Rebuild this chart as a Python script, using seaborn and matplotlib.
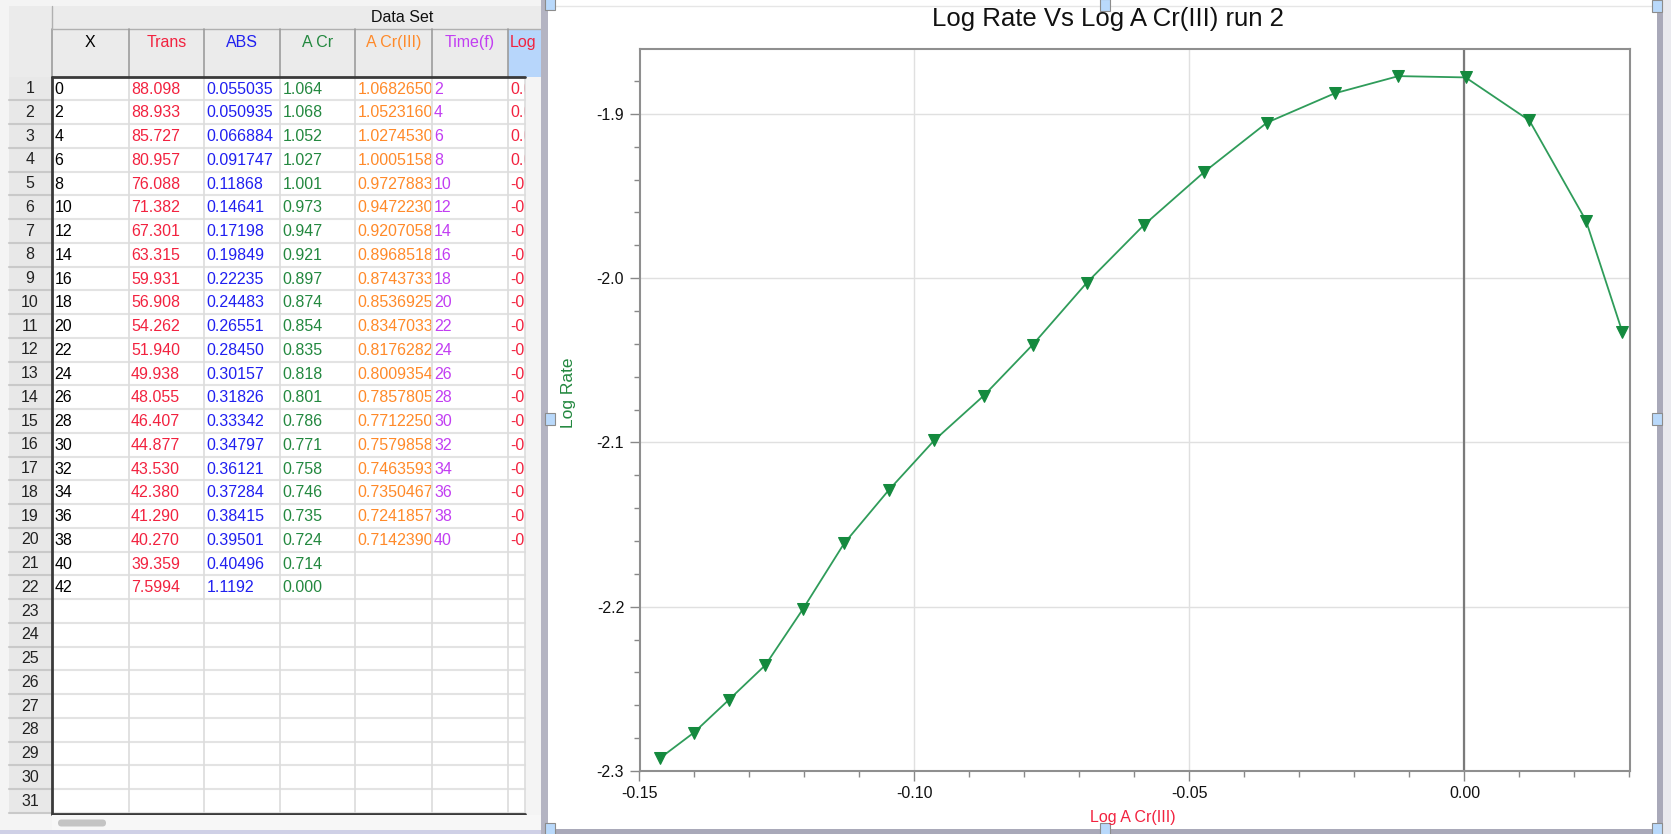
import pandas as pd
import seaborn as sns
import matplotlib.pyplot as plt
from matplotlib.patches import Rectangle, FancyBboxPatch
from matplotlib.ticker import MultipleLocator, FormatStrFormatter

# spreadsheet columns, as shown in the data set table
col_x = ["0", "2", "4", "6", "8", "10", "12", "14", "16", "18", "20",
         "22", "24", "26", "28", "30", "32", "34", "36", "38", "40", "42"]
col_trans = ["88.098", "88.933", "85.727", "80.957", "76.088", "71.382", "67.301",
             "63.315", "59.931", "56.908", "54.262", "51.940", "49.938", "48.055",
             "46.407", "44.877", "43.530", "42.380", "41.290", "40.270", "39.359", "7.5994"]
col_abs = ["0.055035", "0.050935", "0.066884", "0.091747", "0.11868", "0.14641",
           "0.17198", "0.19849", "0.22235", "0.24483", "0.26551", "0.28450",
           "0.30157", "0.31826", "0.33342", "0.34797", "0.36121", "0.37284",
           "0.38415", "0.39501", "0.40496", "1.1192"]
col_acr = ["1.064", "1.068", "1.052", "1.027", "1.001", "0.973", "0.947", "0.921",
           "0.897", "0.874", "0.854", "0.835", "0.818", "0.801", "0.786", "0.771",
           "0.758", "0.746", "0.735", "0.724", "0.714", "0.000"]
col_acr3 = ["1.0682650", "1.0523160", "1.0274530", "1.0005158", "0.9727883",
            "0.9472230", "0.9207058", "0.8968518", "0.8743733", "0.8536925",
            "0.8347033", "0.8176282", "0.8009354", "0.7857805", "0.7712250",
            "0.7579858", "0.7463593", "0.7350467", "0.7241857", "0.7142390"]
col_time = ["2", "4", "6", "8", "10", "12", "14", "16", "18", "20",
            "22", "24", "26", "28", "30", "32", "34", "36", "38", "40"]
headers = ["X", "Trans", "ABS", "A Cr", "A Cr(III)", "Time(f)", "Log"]

# graph: Log A Cr(III) vs Log Rate (table row order)
log_acr3 = [0.0287, 0.0221, 0.0118, 0.0002, -0.0120, -0.0236, -0.0359, -0.0473,
            -0.0583, -0.0687, -0.0785, -0.0874, -0.0964, -0.1047, -0.1128, -0.1203,
            -0.1271, -0.1337, -0.1401, -0.1462]
log_rate = [-2.0327, -1.9650, -1.9040, -1.8778, -1.8770, -1.8875, -1.9053, -1.9353,
            -1.9677, -2.0029, -2.0405, -2.0715, -2.0987, -2.1291, -2.1615, -2.2015,
            -2.2355, -2.2565, -2.2766, -2.2920]

RED = "#f2223f"
BLUE = "#2020f0"
GREEN = "#23883f"
ORANGE = "#ff8a2a"
PURPLE = "#c23ef2"
LINE = "#2f9c5a"
MARK = "#148a3e"

sns.set_style("ticks")
plt.rcParams["font.family"] = ["Liberation Sans", "DejaVu Sans"]
plt.rcParams["axes.unicode_minus"] = False

W, H = 1671, 834
fig = plt.figure(figsize=(W / 100, H / 100), dpi=100)
fig.patch.set_facecolor("white")

# background axes in pixel coordinates for the table and window chrome
bg = fig.add_axes([0, 0, 1, 1])
bg.set_xlim(0, W)
bg.set_ylim(H, 0)
bg.axis("off")


def rect(x0, y0, x1, y1, **kw):
    r = Rectangle((x0, y0), x1 - x0, y1 - y0, **kw)
    bg.add_patch(r)
    return r


# table panel
rect(0, 0, 541, H, fc="#f4f4f4", ec="none", zorder=0)
rect(9, 6, 541, 77, fc="#ebebeb", ec="none", zorder=0)
rect(9, 77, 52, 814, fc="#e8e8e8", ec="none", zorder=0)
rect(508.2, 29.3, 541, 77, fc="#b7d6fb", ec="none", zorder=0)

edges = [52, 128.6, 204, 280.2, 354.9, 431.7, 508.2, 525]
row_top = 76.7
row_h = 23.75
n_rows = 31

# header
bg.plot([52, 541], [29.3, 29.3], color="#b0b0b0", lw=1, zorder=30)
bg.text(402, 17.5, "Data Set", ha="center", va="center", fontsize=11.5, color="#111")
head_cols = ["black", RED, BLUE, GREEN, ORANGE, PURPLE, RED]
for i, (name, c) in enumerate(zip(headers, head_cols)):
    x0 = edges[i]
    x1 = edges[i + 1] if i < 6 else 541
    bg.text((x0 + x1) / 2 if i < 6 else 510, 42, name, ha="center" if i < 6 else "left",
            va="center", fontsize=11.5, color=c)
for e in edges[:-1]:
    bg.plot([e, e], [29.3, 77], color="#9c9c9c", lw=1.2, zorder=30)
bg.plot([52, 52], [6, 29.3], color="#b0b0b0", lw=1, zorder=30)

# cell text; each column's white cells hide the overflow of the column on its left
log_col = [f"{v:.2f}" for v in log_acr3]
columns = [(col_x, "black"), (col_trans, RED), (col_abs, BLUE), (col_acr, GREEN),
           (col_acr3, ORANGE), (col_time, PURPLE), (log_col, RED)]
for i, (vals, c) in enumerate(columns):
    x0, x1 = edges[i], edges[i + 1]
    rect(x0, 77, x1, 814, fc="white", ec="none", zorder=2 + 2 * i)
    for k, v in enumerate(vals):
        yc = row_top + (k + 0.5) * row_h
        bg.text(x0 + 2.4, yc + 0.5, v, ha="left", va="center", fontsize=11.5, color=c,
                zorder=3 + 2 * i)
rect(525, 77, 541, 814, fc="#f4f4f4", ec="none", zorder=20)

# grid of the data area
for k in range(1, n_rows + 1):
    y = row_top + k * row_h
    bg.plot([52, 525], [y, y], color="#e3e3e3", lw=1.5, zorder=25)
    bg.plot([9, 52], [y, y], color="#c9c9c9", lw=1.5, zorder=25)
for e in edges[1:]:
    bg.plot([e, e], [77, 814], color="#dcdcdc", lw=1.2, zorder=25)
for k in range(n_rows):
    bg.text(30, row_top + (k + 0.5) * row_h, str(k + 1), ha="center", va="center",
            fontsize=11.5, color="#222", zorder=26)

# dark frame round the data area
bg.plot([52, 52], [76.7, 814], color="#3a3a3a", lw=2, zorder=30)
bg.plot([52, 525], [76.7, 76.7], color="#3a3a3a", lw=2, zorder=30)
bg.plot([52, 525], [814, 814], color="#3a3a3a", lw=2, zorder=30)

# scroll bar
rect(52, 815, 541, 830, fc="#f7f7f7", ec="none", zorder=30)
bg.add_patch(FancyBboxPatch((58, 819.5), 48, 7, boxstyle="round,pad=0,rounding_size=3.5",
                            fc="#c4c4c4", ec="none", zorder=31))
rect(0, 830, 548, H, fc="#cfd0e6", ec="none", zorder=30)

# chart panel chrome
rect(541, 0, 548, H, fc="#b4b4c2", ec="none", zorder=30)
rect(548, 0, 1657, H, fc="white", ec="none", zorder=21)
bg.plot([548, 1657], [6, 6], color="#e6e6e6", lw=1, zorder=22)
rect(1657, 0, 1663, H, fc="#a9a9b9", ec="none", zorder=30)
rect(1663, 0, W, H, fc="#e9e9ee", ec="none", zorder=30)
rect(548, 829, 1657, H, fc="#a9a9b9", ec="none", zorder=30)
for cx, cy in [(550, 4), (1105, 5), (1657, 6), (550, 419), (1657, 419),
               (550, 829), (1105, 829), (1657, 829)]:
    rect(cx - 5, cy - 6, cx + 5, cy + 6, fc="#b9d9fb", ec="#8c8c8c", lw=0.8, zorder=35)

# graph
ax = fig.add_axes([639.5 / W, (H - 771) / H, 990.5 / W, 722 / H])
ax.set_facecolor("white")
df = pd.DataFrame({"Log A Cr(III)": log_acr3, "Log Rate": log_rate})
ax.axvline(0, color="#7a7a7a", lw=1.6, zorder=1)
sns.lineplot(data=df, x="Log A Cr(III)", y="Log Rate", sort=False, color=LINE, lw=1.3,
             marker="v", markersize=8, markerfacecolor=MARK, markeredgecolor=MARK,
             ax=ax, zorder=3)

ax.set_xlim(-0.15, 0.0301)
ax.set_ylim(-2.3, -1.8605)
ax.xaxis.set_major_locator(MultipleLocator(0.05))
ax.xaxis.set_minor_locator(MultipleLocator(0.01))
ax.yaxis.set_major_locator(MultipleLocator(0.1))
ax.yaxis.set_minor_locator(MultipleLocator(0.02))
ax.xaxis.set_major_formatter(FormatStrFormatter("%.2f"))
ax.yaxis.set_major_formatter(FormatStrFormatter("%.1f"))
ax.grid(True, which="major", color="#e0e0e0", lw=1)
ax.set_axisbelow(True)
for s in ax.spines.values():
    s.set_color("#8f8f8f")
    s.set_linewidth(1.5)
ax.tick_params(which="major", direction="out", length=7.2, width=1, color="#888",
               labelsize=11.5, pad=3.8, labelcolor="#111")
ax.tick_params(which="minor", direction="out", length=4, width=1, color="#888")

ax.set_xlabel("Log A Cr(III)", color=RED, fontsize=11.5)
ax.set_ylabel("Log Rate", color=GREEN, fontsize=12.5)
ax.xaxis.set_label_coords(0.498, -0.054)
ax.yaxis.set_label_coords(-0.064, 0.5235)
ax.text(0.473, 1.0416, "Log Rate Vs Log A Cr(III) run 2", transform=ax.transAxes,
        ha="center", va="center", fontsize=18.5, color="#111")

fig.savefig("out.png", dpi=100)
